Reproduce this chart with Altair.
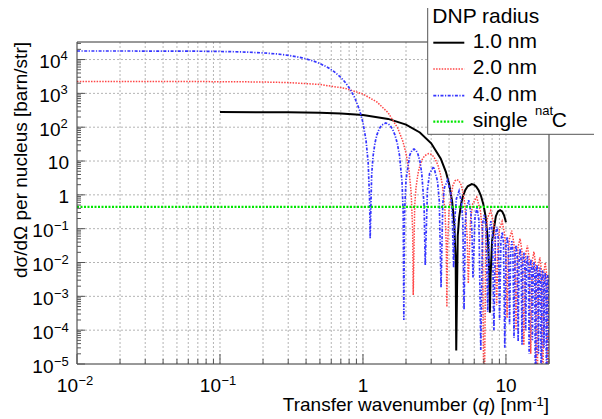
import altair as alt
import pandas as pd

# ---------------- data ----------------
q_black = [0.1, 0.2, 0.3, 0.5, 0.7, 1.0, 1.5, 2.0, 2.5, 3.0, 3.5, 3.8, 4.0, 4.2, 4.35,
           4.45, 4.49, 4.6, 4.7, 4.85, 5.0, 5.2, 5.4, 5.76, 6.0, 6.2, 6.45, 6.7, 6.95, 7.2,
           7.5, 7.65, 7.72, 7.8, 8.0, 8.5, 8.8, 9.1, 9.4, 9.7, 10.0]
v_black = [279.4, 277.8, 275.0, 266.0, 253.7, 228.6, 175.8, 119.4, 69.9, 33.5, 11.74, 4.80, 2.12, 0.648, 0.138,
           0.0113, 2.5e-5, 0.0608, 0.207, 0.531, 0.911, 1.405, 1.793, 2.079, 1.971, 1.740, 1.343, 0.912, 0.524, 0.233,
           0.0391, 0.0041, 3.3e-4, 0.00373, 0.0445, 0.234, 0.324, 0.355, 0.324, 0.248, 0.155]

q_red = [0.01, 0.03, 0.1, 0.2, 0.3, 0.5, 0.75, 1.0, 1.25, 1.5, 1.75, 1.9, 2.0, 2.1, 2.175,
         2.225, 2.247, 2.3, 2.35, 2.425, 2.5, 2.6, 2.7, 2.88, 3.0, 3.1, 3.225, 3.35, 3.475, 3.6,
         3.75, 3.825, 3.862, 3.9, 4.0, 4.25, 4.4, 4.55, 4.7, 4.85, 5.0, 5.15, 5.35, 5.452,
         5.650, 5.847, 6.243, 6.638, 6.835, 7.033,
         7.230, 7.428, 7.822, 8.216, 8.414, 8.611,
         8.808, 9.005, 9.398, 9.791, 9.988, 10.185,
         10.382, 10.579, 10.973, 11.366, 11.563, 11.760,
         12.153, 12.547, 12.940, 13.333,
         13.726, 14.120, 14.513, 14.906,
         15.299, 15.692, 16.085, 16.478,
         16.871, 17.264, 17.657, 18.050,
         18.443, 18.836, 19.229, 19.622, 20.0]
v_red = [2240, 2238, 2222, 2169, 2084, 1829, 1407, 955, 559, 267.7, 93.9, 38.4, 17.0, 5.18, 1.104,
         0.0905, 1.1e-3, 0.486, 1.658, 4.25, 7.29, 11.24, 14.34, 16.63, 15.77, 13.92, 10.74, 7.30, 4.19, 1.861,
         0.313, 0.0327, 4.9e-4, 0.0298, 0.356, 1.870, 2.589, 2.838, 2.594, 1.987, 1.241, 0.558, 0.0625, 2.4e-3,
         0.1805, 0.539, 0.858, 0.3245, 0.0843, 1e-7,
         0.0673, 0.2069, 0.343, 0.1383, 0.0367, 5.5e-4,
         0.0306, 0.0958, 0.1635, 0.0686, 0.0185, 2.3e-4,
         0.01583, 0.0503, 0.0869, 0.03775, 0.01029, 1e-4,
         0.0289, 0.0508, 0.0225, 3.6e-5,
         0.01775, 0.0317, 0.0142, 2e-5,
         0.0115, 0.0208, 0.00941, 1e-7,
         0.00778, 0.01418, 0.00648, 1e-7,
         0.00545, 0.01001, 0.00461, 1e-7, 0.0037]

q_blue = [0.01, 0.03, 0.05, 0.075, 0.1, 0.125, 0.15, 0.2, 0.25, 0.3, 0.375, 0.45, 0.5, 0.575, 0.625,
          0.7, 0.75, 0.8, 0.875, 0.95, 1.0, 1.05, 1.0875, 1.1125, 1.123, 1.15, 1.175, 1.2125, 1.25, 1.3,
          1.35, 1.44, 1.5, 1.55, 1.6125, 1.675, 1.7375, 1.8, 1.875, 1.9125, 1.931, 1.95, 2.0, 2.125, 2.2,
          2.275, 2.35, 2.425, 2.5, 2.575, 2.675, 2.726,
          2.825, 2.924, 3.121, 3.319, 3.418, 3.5165,
          3.615, 3.714, 3.911, 4.108, 4.206, 4.305,
          4.404, 4.502, 4.699, 4.896, 4.995, 5.093,
          5.191, 5.290, 5.486, 5.683, 5.782, 5.880,
          6.077, 6.273, 6.470, 6.6665,
          6.863, 7.060, 7.256, 7.453,
          7.650, 7.846, 8.043, 8.239,
          8.436, 8.632, 8.829, 9.025,
          9.222, 9.418, 9.615, 9.811,
          10.008, 10.204, 10.401, 10.597,
          10.794, 10.990, 11.187, 11.383,
          11.580, 11.776, 11.973, 12.169,
          12.365, 12.562, 12.758, 12.954,
          13.151, 13.347, 13.544, 13.740,
          13.937, 14.133, 14.330, 14.526,
          14.722, 14.919, 15.115, 15.311,
          15.508, 15.704, 15.901, 16.097,
          16.294, 16.490, 16.687, 16.883,
          17.079, 17.276, 17.472, 17.668,
          17.865, 18.061, 18.258, 18.454,
          18.651, 18.847, 19.044, 19.240,
          19.436, 19.632, 19.829, 20.0]
v_blue = [17900, 17848, 17757, 17578, 17327, 17023, 16651, 15732, 14615, 13333, 11241, 9057, 7634, 5648, 4466,
          2955, 2139, 1476, 750.7, 306.6, 135.8, 41.4, 8.82, 0.723, 0.052, 3.88, 13.25, 33.9, 58.3, 89.8,
          114.6, 132.9, 126.0, 111.2, 85.8, 58.3, 33.5, 14.87, 2.50, 0.261, 2.0e-4, 0.238, 2.846, 14.95, 20.69,
          22.68, 20.73, 15.88, 9.92, 4.457, 0.499, 8.4e-3,
          1.443, 4.304, 6.856, 2.593, 0.673, 1.85e-3,
          0.538, 1.654, 2.74, 1.105, 0.2936, 7e-3,
          0.2442, 0.766, 1.307, 0.5476, 0.1476, 4e-4,
          0.1265, 0.4018, 0.6945, 0.3017, 0.0822, 3.5e-3,
          0.2307, 0.4063, 0.1796, 2.6e-5,
          0.1418, 0.2533, 0.1135, 3.5e-4,
          0.0919, 0.1661, 0.0752, 1e-4,
          0.0621, 0.1133, 0.0518, 2e-4,
          0.0435, 0.0800, 0.0368, 3e-5,
          0.03137, 0.0580, 0.02689, 1.5e-4,
          0.02318, 0.0431, 0.02009, 6e-5,
          0.0175, 0.03274, 0.01531, 4.6e-5,
          0.01346, 0.02527, 0.01188, 3.7e-5,
          0.01052, 0.01983, 0.00935, 1e-4,
          0.00834, 0.01577, 0.00746, 2e-5,
          0.0067, 0.01271, 0.00603, 5e-5,
          0.00544, 0.01035, 0.00492, 1e-7,
          0.00446, 0.0085, 0.00406, 2e-5,
          0.0037, 0.00707, 0.00338, 1e-7,
          0.00309, 0.00591, 0.00283, 3e-5,
          0.0026, 0.00499, 0.00239, 1e-7,
          0.0022, 0.00424, 0.00204, 3.8e-5]

q_carbon = [0.01, 20.0]
v_carbon = [0.4417, 0.4417]

# axis ticks / labels
x_major = [0.01, 0.1, 1.0, 10.0]
x_minor = [0.02, 0.03, 0.04, 0.05, 0.06, 0.07, 0.08, 0.09,
           0.2, 0.3, 0.4, 0.5, 0.6, 0.7, 0.8, 0.9,
           2, 3, 4, 5, 6, 7, 8, 9, 20]
x_lab_exp_pos = [0.01, 0.1]
x_lab_exp_base = ["10", "10"]
x_lab_exp = ["\u22122", "\u22121"]
x_lab_plain_pos = [1.0, 10.0]
x_lab_plain = ["1", "10"]

y_decades = [1e-5, 1e-4, 1e-3, 1e-2, 1e-1, 1.0, 10.0, 1e2, 1e3, 1e4]
y_minor = [k * d for d in y_decades for k in range(2, 10) if k * d < 3.3e4]
y_lab_pos_pos = [1e2, 1e3, 1e4]
y_lab_pos_exp = ["2", "3", "4"]
y_lab_neg_pos = [1e-5, 1e-4, 1e-3, 1e-2, 1e-1]
y_lab_neg_exp = ["\u22125", "\u22124", "\u22123", "\u22122", "\u22121"]
y_lab_plain_pos = [1.0, 10.0]
y_lab_plain = ["1", "10"]

W, H = 472, 322
FONT = "Liberation Sans"
RED = "#ff4545"
BLUE = "#3535ff"
GREEN = "#00e600"
RED_DASH = [1.5, 1.3]
BLUE_DASH = [3, 1.5, 1.2, 1.5]
GREEN_DASH = [2, 1.5]

xs = alt.Scale(type="log", domain=[0.01, 20], nice=False)
ys = alt.Scale(type="log", domain=[1e-5, 3.3e4], nice=False)


def X():
    return alt.X("q:Q", scale=xs, axis=None)


def Y():
    return alt.Y("v:Q", scale=ys, axis=None)


one = pd.DataFrame({"a": [0]})

# grid
grid_x = alt.Chart(pd.DataFrame({"q": x_major[1:] + x_minor[:-1]})).mark_rule(
    color="#b4b4b4", strokeDash=[2, 2], strokeWidth=1
).encode(x=X(), y=alt.value(0), y2=alt.value(H))
grid_y = alt.Chart(pd.DataFrame({"v": y_decades[1:]})).mark_rule(
    color="#b4b4b4", strokeDash=[2, 2], strokeWidth=1
).encode(y=Y(), x=alt.value(0), x2=alt.value(W))


def curve(qs, vs, color, width, dash=None):
    kw = dict(color=color, strokeWidth=width, clip=True)
    if dash is not None:
        kw["strokeDash"] = dash
    return alt.Chart(pd.DataFrame({"q": qs, "v": vs})).mark_line(**kw).encode(x=X(), y=Y())


c_black = curve(q_black, v_black, "#000000", 2)
c_red = curve(q_red, v_red, RED, 1.5, RED_DASH)
c_blue = curve(q_blue, v_blue, BLUE, 1.7, BLUE_DASH)
c_green = curve(q_carbon, v_carbon, GREEN, 2.2, GREEN_DASH)

frame = alt.Chart(one).mark_rect(fillOpacity=0, stroke="#333333", strokeWidth=1).encode(
    x=alt.value(0), x2=alt.value(W), y=alt.value(0), y2=alt.value(H))

tick_col = "#555555"
xt_major = alt.Chart(pd.DataFrame({"q": x_major})).mark_rule(color=tick_col).encode(
    x=X(), y=alt.value(H), y2=alt.value(H - 10))
xt_minor = alt.Chart(pd.DataFrame({"q": x_minor})).mark_rule(color=tick_col).encode(
    x=X(), y=alt.value(H), y2=alt.value(H - 5))
yt_major = alt.Chart(pd.DataFrame({"v": y_decades})).mark_rule(color=tick_col).encode(
    y=Y(), x=alt.value(0), x2=alt.value(8))
yt_minor = alt.Chart(pd.DataFrame({"v": y_minor})).mark_rule(color=tick_col).encode(
    y=Y(), x=alt.value(0), x2=alt.value(4))

# x labels
xl_base = alt.Chart(pd.DataFrame({"q": x_lab_exp_pos, "t": x_lab_exp_base})).mark_text(
    font=FONT, fontSize=19, align="right", baseline="alphabetic", dx=1, color="black"
).encode(x=X(), y=alt.value(H + 27.7), text="t:N")
xl_exp = alt.Chart(pd.DataFrame({"q": x_lab_exp_pos, "t": x_lab_exp})).mark_text(
    font=FONT, fontSize=13, align="left", baseline="alphabetic", dx=1.5, color="black"
).encode(x=X(), y=alt.value(H + 21), text="t:N")
xl_plain = alt.Chart(pd.DataFrame({"q": x_lab_plain_pos, "t": x_lab_plain})).mark_text(
    font=FONT, fontSize=19, align="center", baseline="alphabetic", color="black"
).encode(x=X(), y=alt.value(H + 27.7), text="t:N")

# y labels
yl_pos_base = alt.Chart(pd.DataFrame({"v": y_lab_pos_pos, "t": ["10"] * len(y_lab_pos_pos)})).mark_text(
    font=FONT, fontSize=19, align="right", baseline="alphabetic", dy=8.5, color="black"
).encode(y=Y(), x=alt.value(-16.5), text="t:N")
yl_pos_exp = alt.Chart(pd.DataFrame({"v": y_lab_pos_pos, "t": y_lab_pos_exp})).mark_text(
    font=FONT, fontSize=13, align="left", baseline="alphabetic", dy=0.5, color="black"
).encode(y=Y(), x=alt.value(-16.5), text="t:N")
yl_neg_base = alt.Chart(pd.DataFrame({"v": y_lab_neg_pos, "t": ["10"] * len(y_lab_neg_pos)})).mark_text(
    font=FONT, fontSize=19, align="right", baseline="alphabetic", dy=8.5, color="black"
).encode(y=Y(), x=alt.value(-23.5), text="t:N")
yl_neg_exp = alt.Chart(pd.DataFrame({"v": y_lab_neg_pos, "t": y_lab_neg_exp})).mark_text(
    font=FONT, fontSize=13, align="left", baseline="alphabetic", dy=1.5, color="black"
).encode(y=Y(), x=alt.value(-23), text="t:N")
yl_plain = alt.Chart(pd.DataFrame({"v": y_lab_plain_pos, "t": y_lab_plain})).mark_text(
    font=FONT, fontSize=19, align="right", baseline="alphabetic", dy=8, color="black"
).encode(y=Y(), x=alt.value(-8), text="t:N")


def txt(s, x, y, size=19, align="left", **kw):
    return alt.Chart(one).mark_text(font=FONT, fontSize=size, align=align,
                                    baseline="alphabetic", color="black", **kw).encode(
        x=alt.value(x), y=alt.value(y), text=alt.value(s))


# axis titles
TB = 368.5
xt1 = txt("]", 472.1, TB, align="right")
xt2 = txt("-1", 466.8, TB - 5, size=13, align="right")
xt3 = txt(") [nm", 455.3, TB, align="right")
xt4 = txt("q", 412.0, TB, align="right", fontStyle="italic")
xt5 = txt("Transfer wavenumber (", 401.5, TB, align="right")
yt = txt("d\u03c3/d\u03a9 per nucleus [barn/str]", -50.5, 0, align="right", angle=270)

# legend
leg_box = alt.Chart(one).mark_rect(fill="white", stroke="#555555", strokeWidth=1).encode(
    x=alt.value(350.7), x2=alt.value(560), y=alt.value(-40), y2=alt.value(92.3))


def sample(y, color, width, dash=None):
    kw = dict(color=color, strokeWidth=width)
    if dash is not None:
        kw["strokeDash"] = dash
    return alt.Chart(one).mark_rule(**kw).encode(
        x=alt.value(356.3), x2=alt.value(387.3), y=alt.value(y))


leg = [
    leg_box,
    txt("DNP radius", 355.3, -19.0, size=21),
    sample(0.7, "#000000", 2), txt("1.0 nm", 395.7, 5.7, size=21),
    sample(27, RED, 1.5, RED_DASH), txt("2.0 nm", 395.7, 32, size=21),
    sample(53.7, BLUE, 1.7, BLUE_DASH), txt("4.0 nm", 395.7, 58.7, size=21),
    sample(79.7, GREEN, 2.2, GREEN_DASH), txt("single", 395.7, 85.3, size=21),
    txt("nat", 458, 73, size=13), txt("C", 474.7, 85.3, size=21),
]

chart = alt.layer(
    grid_x, grid_y, c_black, c_red, c_blue, c_green, frame,
    xt_major, xt_minor, yt_major, yt_minor,
    xl_base, xl_exp, xl_plain,
    yl_pos_base, yl_pos_exp, yl_neg_base, yl_neg_exp, yl_plain,
    xt1, xt2, xt3, xt4, xt5, yt,
    *leg
).properties(
    width=W, height=H,
    padding={"left": 69, "top": 34, "right": 45, "bottom": 55},
    autosize=alt.AutoSizeParams(type="none"),
    background="white",
).configure_view(strokeWidth=0)

chart.save("out.html", embed_options={"renderer": "svg", "actions": False})
